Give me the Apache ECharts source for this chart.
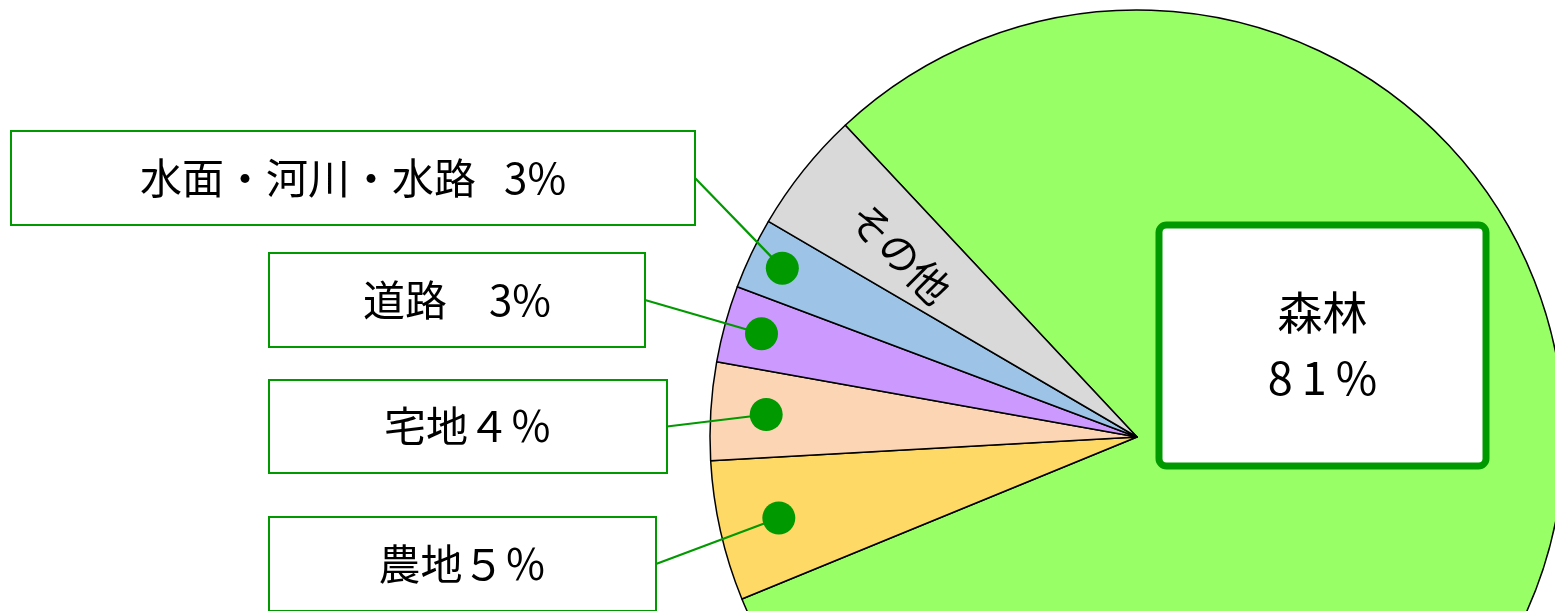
<!DOCTYPE html>
<html><head><meta charset="utf-8">
<script src="https://cdn.jsdelivr.net/npm/echarts@6/dist/echarts.min.js"></script>
<style>html,body{margin:0;padding:0;background:#fff}#c{width:1555px;height:611px}</style>
</head><body><div id="c"></div>
<script>
// ---- data ----
const categories = ['森林', '農地', '宅地', '道路', '水面・河川・水路', 'その他'];
const values = [80.7, 5.3, 3.7, 2.9, 2.7, 4.6];
const labelTexts = ['森林\n8\u20091\u2009%', '農地５％', '宅地４％', '道路　3%', '水面・河川・水路   3%', 'その他'];

// ---- styles / layout ----
const colors = ['#99FF66', '#FFD966', '#FCD5B5', '#CC99FF', '#9DC3E6', '#D9D9D9'];
const GREEN = '#009900';
const CX = 1137, CY = 437, R = 427, START = 133.1;
const boxes = [
  {x: 1322.5, y: 345.5, w: 320, h: 234},
  {x: 462.5, y: 564, w: 385, h: 92},
  {x: 468, y: 426.5, w: 396, h: 91},
  {x: 457, y: 300, w: 374, h: 92},
  {x: 353, y: 178, w: 682, h: 92},
  {x: 900, y: 253}
];
const dotFrac = [null, 0.86, 0.87, 0.912, 0.92, null];
const total = values.reduce((a, b) => a + b, 0);

function midValue(i) {
  let cum = 0;
  for (let k = 0; k < i; k++) cum += values[k];
  return cum + values[i] / 2;
}

const FONT = '"Noto Sans CJK JP", "Noto Sans", sans-serif';

const pieData = categories.map((name, i) => {
  const b = boxes[i];
  let label;
  if (i === 0) {
    label = {position: 'inside', width: b.w, height: b.h, fontSize: 45, lineHeight: 65,
      backgroundColor: '#fff', borderColor: GREEN, borderWidth: 7, borderRadius: 4};
  } else if (i === 5) {
    label = {position: 'inside', rotate: -45, fontSize: 41, backgroundColor: 'transparent', borderWidth: 0};
  } else {
    label = {position: 'outside', width: b.w, height: b.h, fontSize: 42,
      backgroundColor: '#fff', borderColor: GREEN, borderWidth: 2};
  }
  return {name, value: values[i], itemStyle: {color: colors[i]}, label, labelLine: {show: false}};
});

// dots: [radius fraction, angle value (slice middle), category index]
const dotData = categories.map((c, i) => dotFrac[i] != null ? [dotFrac[i], midValue(i), i] : null).filter(d => d);

const chart = echarts.init(document.getElementById('c'));
chart.setOption({
  animation: false,
  polar: {center: [CX, CY], radius: R},
  angleAxis: {type: 'value', min: 0, max: total, startAngle: START, clockwise: true, show: false,
    axisLine: {show: false}, axisTick: {show: false}, axisLabel: {show: false}, splitLine: {show: false}},
  radiusAxis: {type: 'value', min: 0, max: 1, show: false,
    axisLine: {show: false}, axisTick: {show: false}, axisLabel: {show: false}, splitLine: {show: false}},
  series: [
    {
      type: 'pie',
      center: [CX, CY],
      radius: R,
      startAngle: START,
      clockwise: true,
      avoidLabelOverlap: false,
      silent: true,
      itemStyle: {borderColor: '#000', borderWidth: 1.5},
      label: {
        show: true,
        formatter: p => labelTexts[p.dataIndex],
        fontFamily: FONT,
        color: '#000',
        align: 'center',
        verticalAlign: 'middle',
        padding: 0
      },
      labelLine: {show: false},
      labelLayout: function (params) {
        const b = boxes[params.dataIndex];
        return {x: b.x, y: b.y, align: 'center', verticalAlign: 'middle'};
      },
      data: pieData
    },
    {
      type: 'custom',
      coordinateSystem: 'polar',
      silent: true,
      z: 10,
      data: dotData,
      renderItem: function (params, api) {
        const p = api.coord([api.value(0), api.value(1)]);
        const b = boxes[api.value(2)];
        const ex = b.x + b.w / 2 + 1;
        return {
          type: 'group',
          children: [
            {type: 'line', shape: {x1: ex, y1: b.y, x2: p[0], y2: p[1]}, style: {stroke: GREEN, lineWidth: 2.2}},
            {type: 'circle', shape: {cx: p[0], cy: p[1], r: 16.5}, style: {fill: GREEN, opacity: 1}}
          ]
        };
      }
    }
  ]
});
</script>
</body></html>
